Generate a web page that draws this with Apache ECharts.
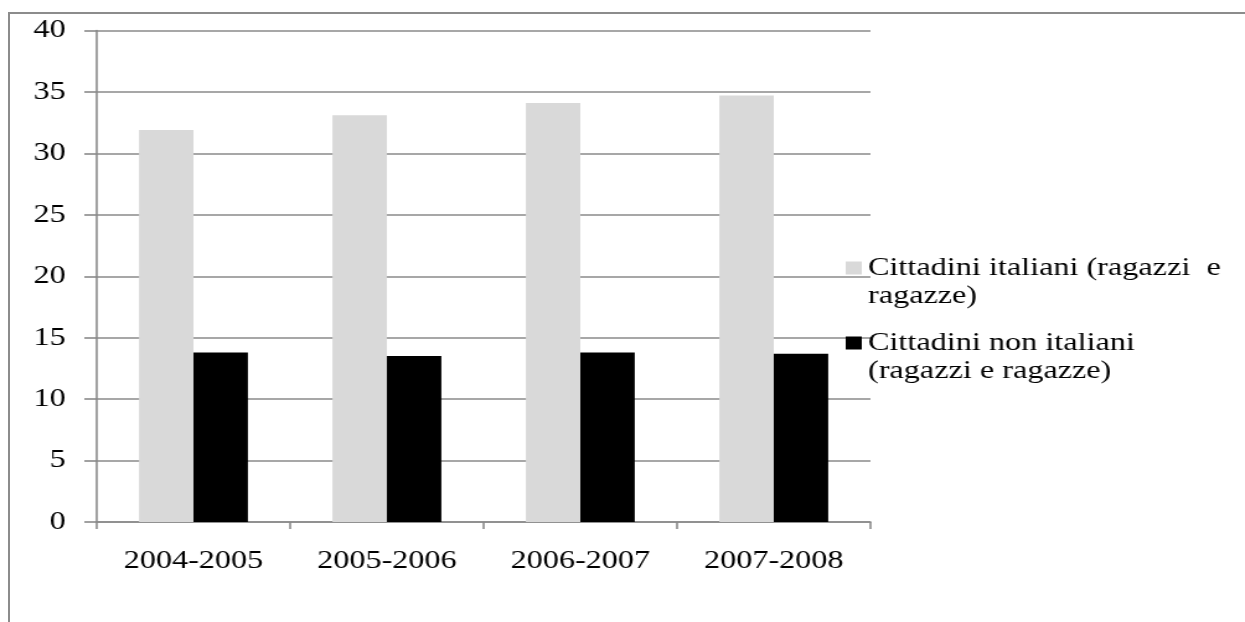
<!DOCTYPE html>
<html>
<head>
<meta charset="utf-8">
<script src="https://cdn.jsdelivr.net/npm/echarts@6/dist/echarts.min.js"></script>
<style>
  html, body { margin: 0; padding: 0; background: #fff; width: 1245px; height: 622px; overflow: hidden; }
  /* frame around the figure (top and left edges visible) */
  #frame { position: absolute; left: 8px; top: 12px; width: 1400px; height: 800px;
           border-top: 2px solid #8c8c8c; border-left: 2px solid #8c8c8c; }
  /* the figure is drawn narrower and widened, giving the stretched serif lettering */
  #chart { position: absolute; left: 0; top: 0; width: 1004px; height: 622px;
           transform: scaleX(1.24); transform-origin: 0 0; }
</style>
</head>
<body>
<div id="frame"></div>
<div id="chart"></div>
<script>
// school years on the category axis
const years = ['2004-2005', '2005-2006', '2006-2007', '2007-2008'];
// Italian citizens (boys and girls)
const italiani = [31.9, 33.1, 34.1, 34.7];
// non-Italian citizens (boys and girls)
const nonItaliani = [13.8, 13.5, 13.8, 13.7];
// value axis range and step
const yMin = 0, yMax = 40, yStep = 5;
// series names as shown in the legend
const nameItaliani = 'Cittadini italiani (ragazzi  e\nragazze)';
const nameNonItaliani = 'Cittadini non italiani\n(ragazzi e ragazze)';

const FONT = '"Liberation Serif", "Times New Roman", serif';
const LINE = '#8a8a8a';
const LH = 28;

const chart = echarts.init(document.getElementById('chart'), null, { renderer: 'canvas' });

chart.setOption({
  animation: false,
  backgroundColor: 'transparent',
  textStyle: { fontFamily: FONT },
  grid: { left: 78, right: 302, top: 30.5, bottom: 100, containLabel: false },
  legend: {
    orient: 'vertical',
    left: 682,
    top: 226,
    padding: 0,
    itemGap: -9,
    itemWidth: 13,
    itemHeight: 13,
    icon: 'rect',
    selectedMode: false,
    data: [nameItaliani, nameNonItaliani],
    // a blank leading line keeps the first text line level with the swatch
    formatter: name => ' \n' + name,
    textStyle: {
      fontFamily: FONT,
      fontSize: 26,
      color: '#000',
      lineHeight: LH
    }
  },
  xAxis: {
    type: 'category',
    data: years,
    boundaryGap: true,
    axisLine: { show: true, lineStyle: { color: LINE, width: 1.6 } },
    axisTick: { show: true, length: 7, inside: false, lineStyle: { color: LINE, width: 1.6 } },
    axisLabel: { margin: 26, fontFamily: FONT, fontSize: 26, color: '#000', lineHeight: 26 },
    splitLine: { show: false }
  },
  yAxis: {
    type: 'value',
    min: yMin,
    max: yMax,
    interval: yStep,
    axisLine: { show: true, lineStyle: { color: LINE, width: 1.6 } },
    axisTick: { show: true, length: 10, inside: false, lineStyle: { color: LINE, width: 1.6 } },
    axisLabel: { margin: 25, fontFamily: FONT, fontSize: 26, color: '#000' },
    splitLine: { show: true, lineStyle: { color: LINE, width: 1.6 } }
  },
  series: [
    {
      name: nameItaliani,
      type: 'bar',
      data: italiani,
      barGap: '0%',
      barCategoryGap: '43.7%',
      itemStyle: { color: '#d9d9d9' }
    },
    {
      name: nameNonItaliani,
      type: 'bar',
      data: nonItaliani,
      barGap: '0%',
      barCategoryGap: '43.7%',
      itemStyle: { color: '#000000' }
    }
  ]
});
</script>
</body>
</html>
